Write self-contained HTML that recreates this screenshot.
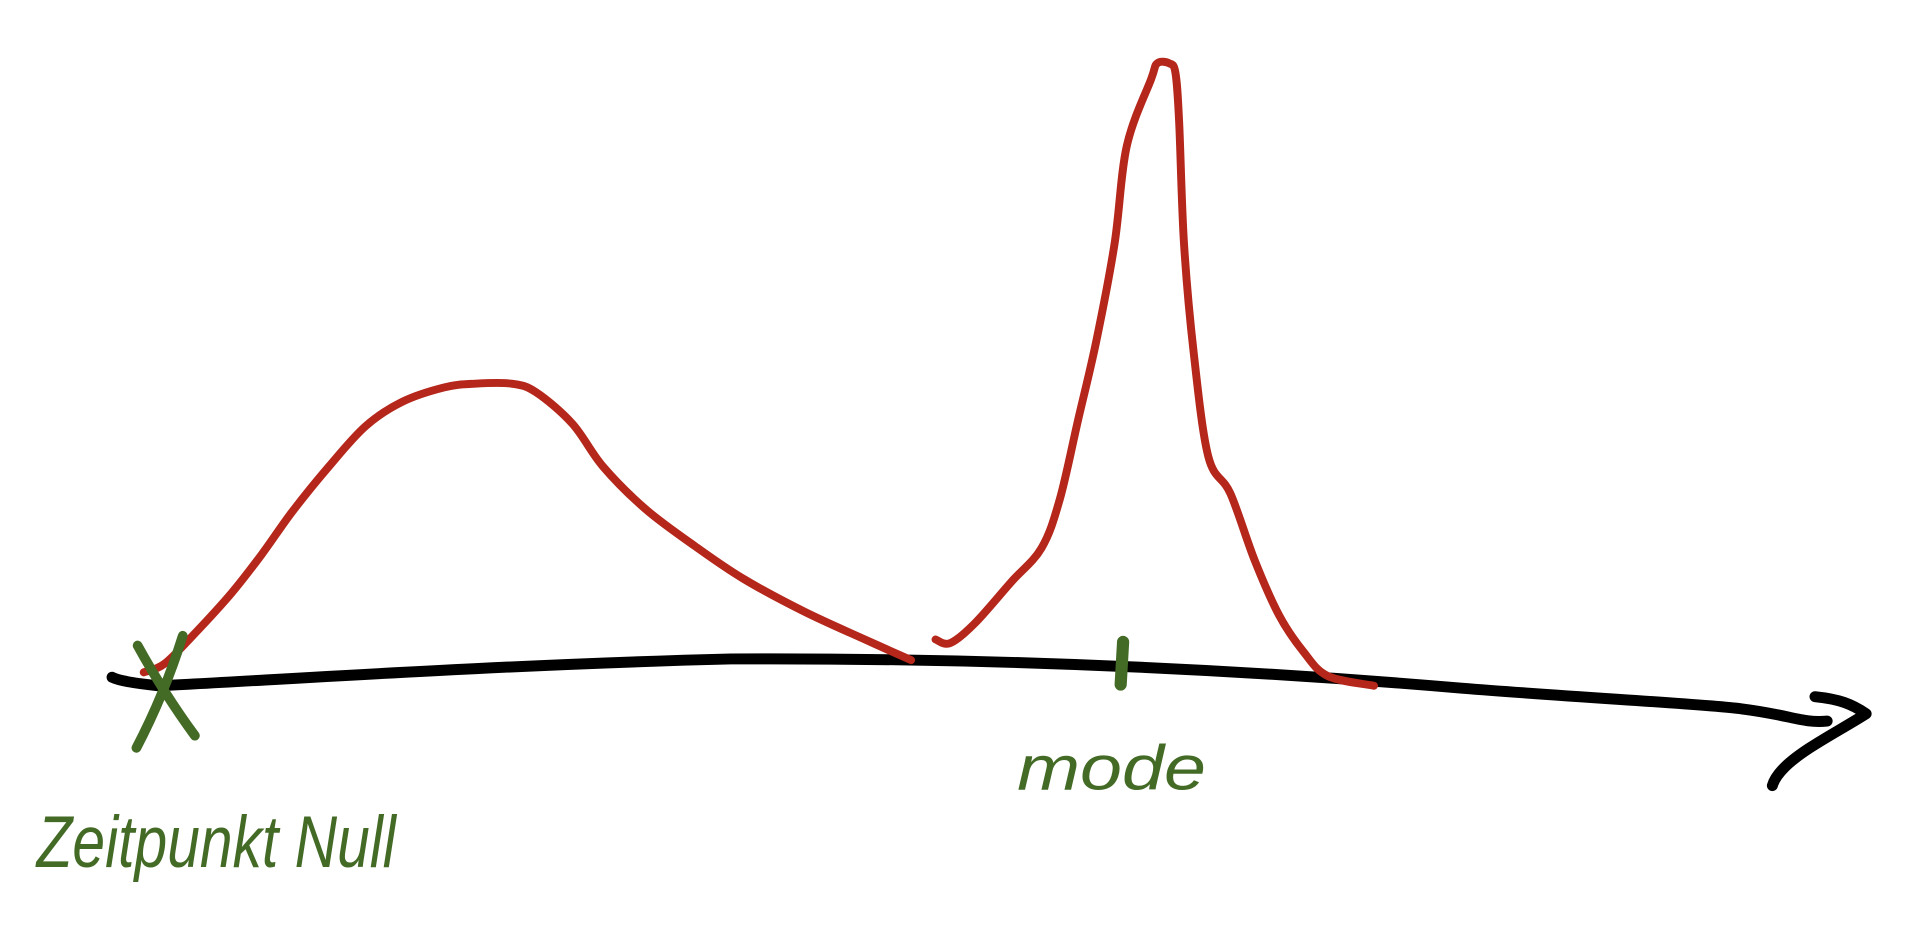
<!DOCTYPE html>
<html><head><meta charset="utf-8"><style>
html,body{margin:0;padding:0;background:#fff;width:1910px;height:933px;overflow:hidden}
svg{display:block}
</style></head><body>
<svg width="1910" height="933" viewBox="0 0 1568 766" preserveAspectRatio="none">
<path d="M92,556 Q100,560 130,563 C200,560 400,546 600,541 C800,540 1000,548 1200,565 C1300,573 1400,578 1430,582 C1470,587 1480,594 1500,592" fill="none" stroke="#000" stroke-width="9" stroke-linecap="round"/>
<path d="M1490,572 C1510,574 1520,578 1532,586 C1510,600 1480,615 1465,630 Q1457,638 1455,645" fill="none" stroke="#000" stroke-width="9" stroke-linecap="round" stroke-linejoin="round"/>
<g id="curves"></g>
<path d="M113,530 Q135,570 160,604 M150,522 Q135,570 112,614" fill="none" stroke="#436b26" stroke-width="8" stroke-linecap="round"/>
<path d="M922,527 L920,562" fill="none" stroke="#436b26" stroke-width="10" stroke-linecap="round"/>
<text x="835" y="648" font-family="Liberation Sans, sans-serif" font-style="italic" font-size="52" fill="#436b26" textLength="155" lengthAdjust="spacingAndGlyphs">mode</text>
<text x="30" y="712" font-family="Liberation Sans, sans-serif" font-style="italic" font-size="60" fill="#436b26" textLength="295" lengthAdjust="spacingAndGlyphs">Zeitpunkt Null</text>
</svg>
<script>
const seg1Time=[0,1.7,4.2,7.2,9.7,12.2,15.2,18.2,21.2,24.7,27.2,30.2,32.2,35.2,37.7,41.2,45.2,49.2,54.2,59.2,63];
const seg1Density=[-0.4,1,6,12.6,19,26,33.4,40,44,46.4,47,47,45.6,40.4,33.4,26.4,20.4,15,9.6,5,1.6];
const seg2Time=[65,66.2,68.2,71.2,73.7,75.2,76.7,78.2,79.7,80.7,82.7,83.2,84.2,84.7,85,85.4,86.2,87.4,89.2,91.2,93.2,95.2,97.2,101];
const seg2Density=[5,4.4,7.6,14.4,20,28,41,54,70,86,97,99.6,99.6,98,90,70,52,35,29,18,9,3,-1,-2.6];
function xScale(t){return 118+t*10;}
function yScale(d){return 550-d*5;}
function smoothPath(ts,ds){
  const p=ts.map((t,i)=>[xScale(t),yScale(ds[i])]);
  let s='M'+p[0][0]+','+p[0][1];
  for(let i=0;i<p.length-1;i++){
    const p0=p[i-1]||p[i],p1=p[i],p2=p[i+1],p3=p[i+2]||p2;
    const c1=[p1[0]+(p2[0]-p0[0])/6,p1[1]+(p2[1]-p0[1])/6];
    const c2=[p2[0]-(p3[0]-p1[0])/6,p2[1]-(p3[1]-p1[1])/6];
    s+=' C'+c1+' '+c2+' '+p2;
  }
  return s;
}
const g=document.getElementById('curves');
[[seg1Time,seg1Density,'density-curve-left'],[seg2Time,seg2Density,'density-curve-right']].forEach(([t,d,n])=>{
  const el=document.createElementNS('http://www.w3.org/2000/svg','path');
  el.setAttribute('d',smoothPath(t,d));
  el.setAttribute('fill','none');
  el.setAttribute('stroke','#b5261b');
  el.setAttribute('stroke-width','6.5');
  el.setAttribute('stroke-linecap','round');
  
  
  g.appendChild(el);
});
</script>
</body></html>
